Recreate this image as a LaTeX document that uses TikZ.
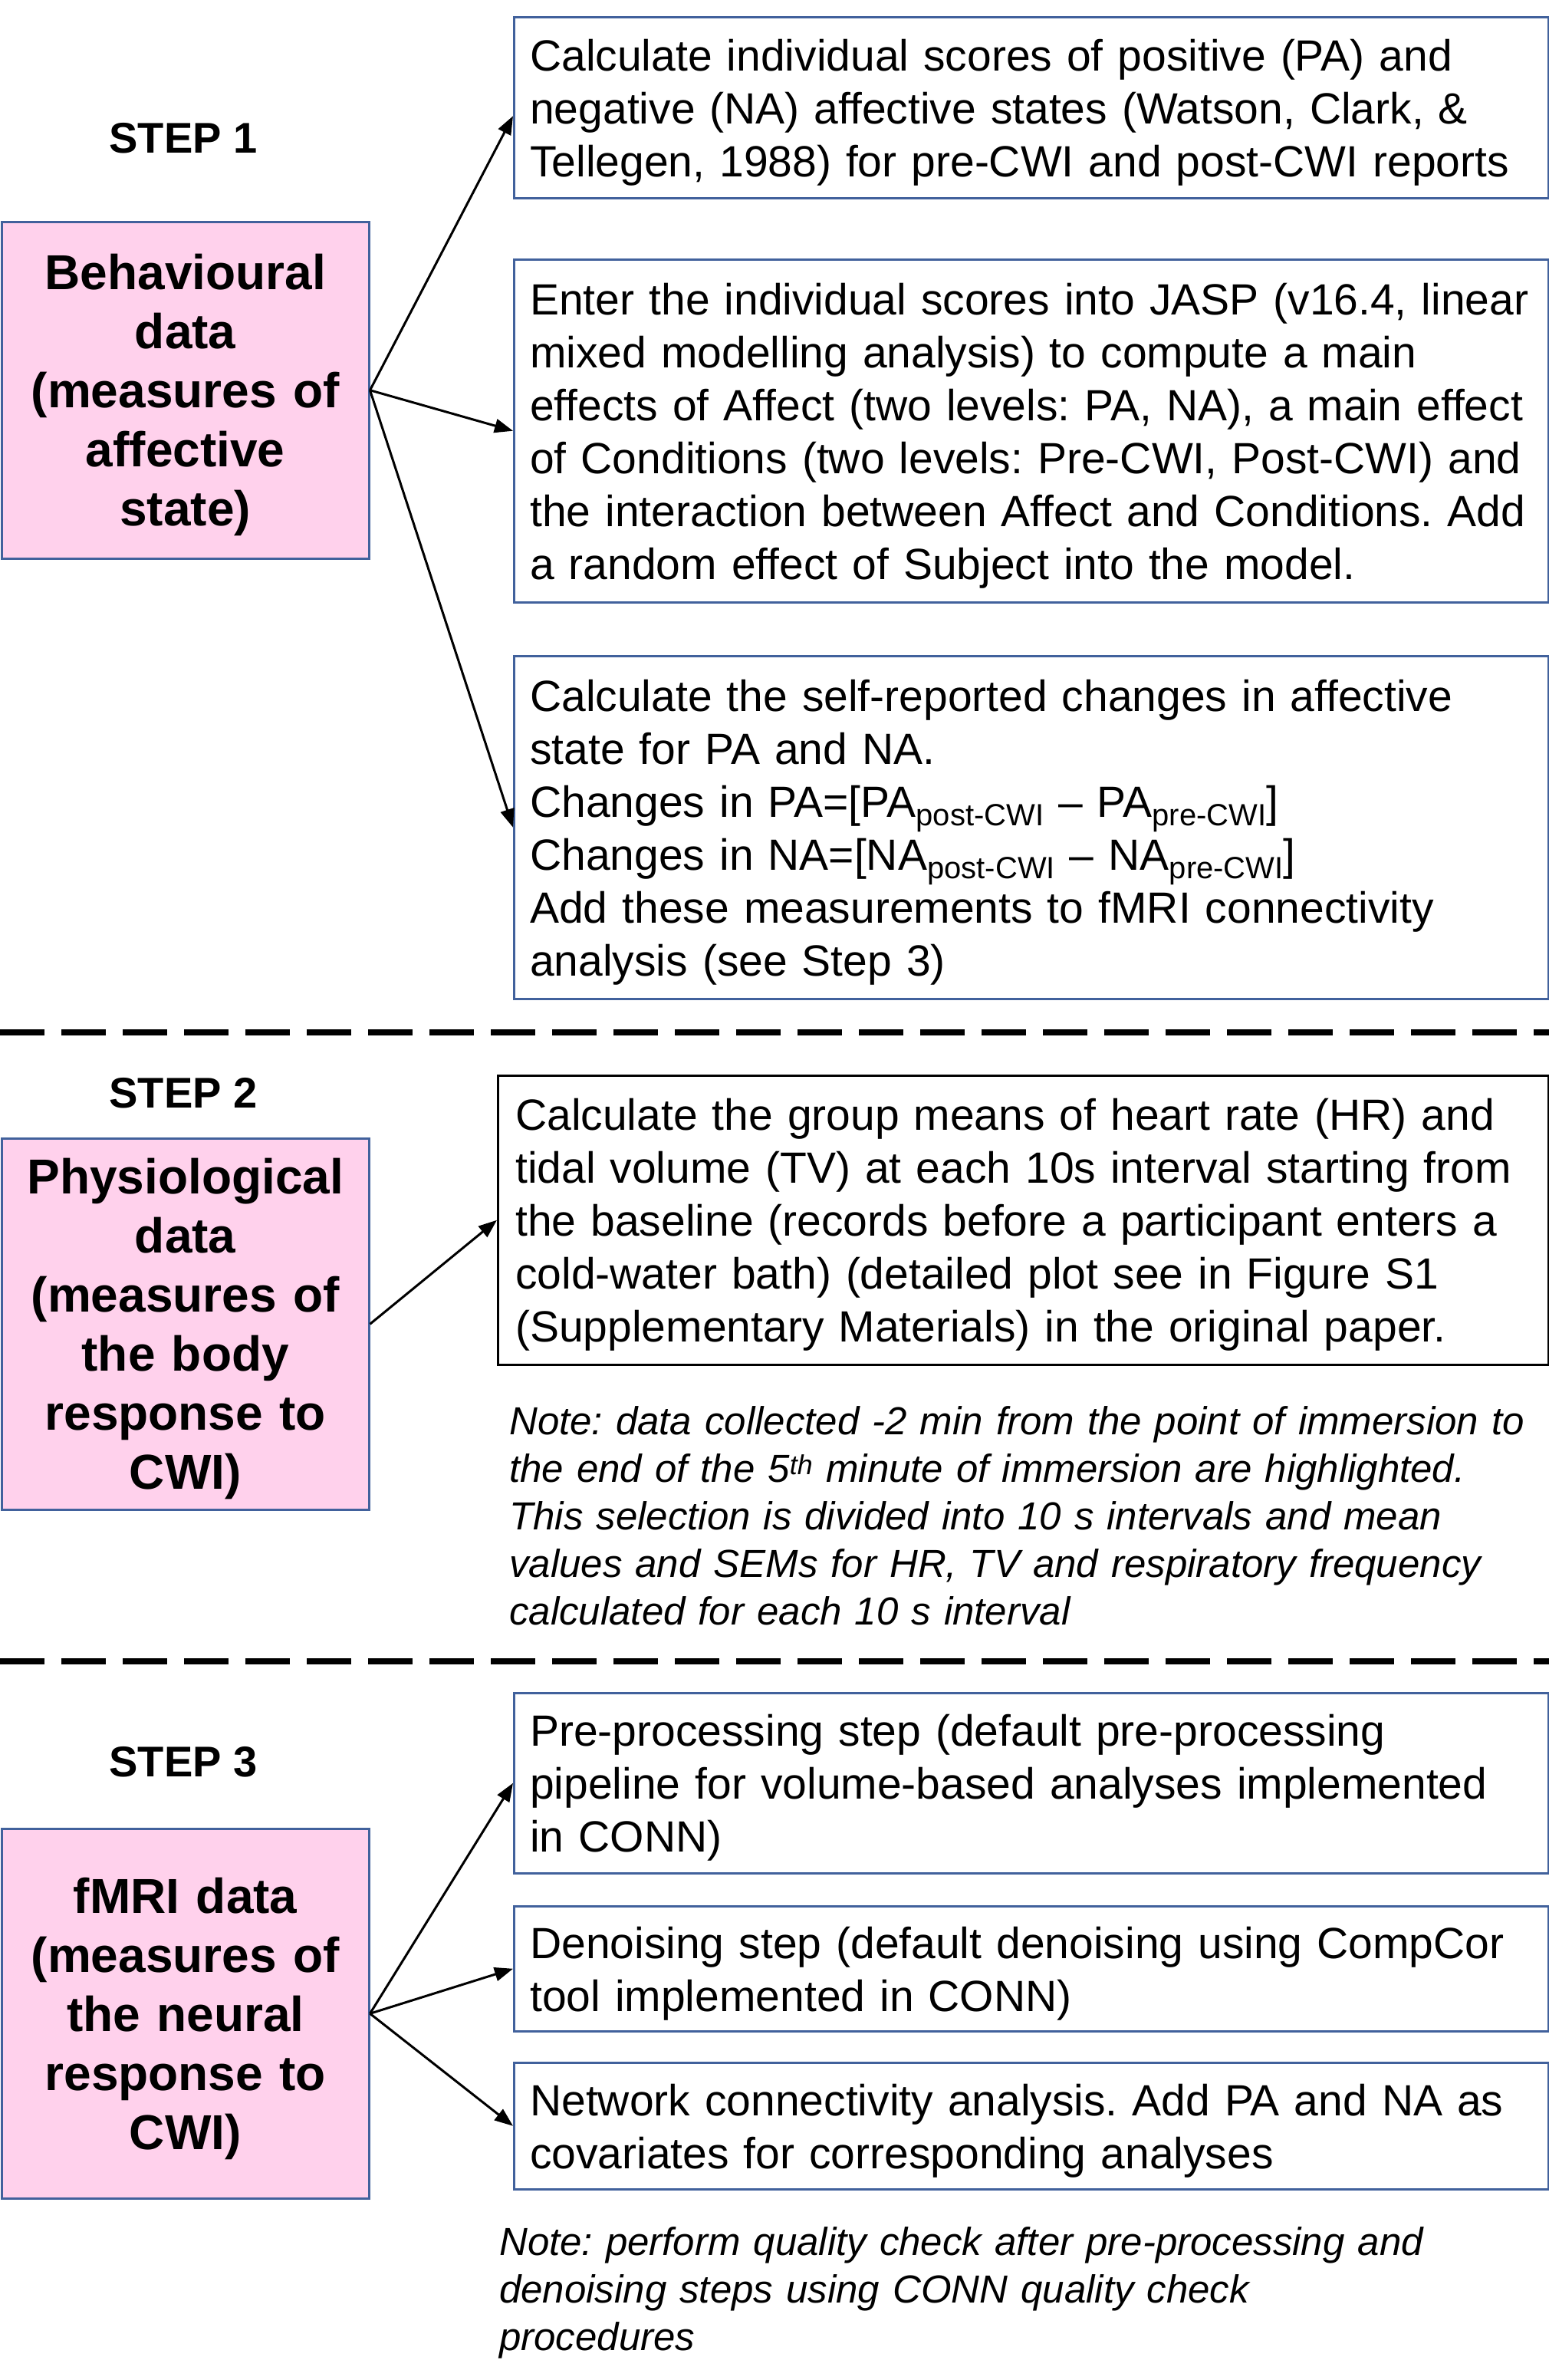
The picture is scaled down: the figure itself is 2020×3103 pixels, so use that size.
\documentclass[tikz,border=0pt]{standalone}
\usepackage{fontspec}
\setmainfont{Liberation Sans}
\usetikzlibrary{arrows.meta}
\definecolor{boxblue}{HTML}{41619C}
\definecolor{pinkfill}{HTML}{FFD1EC}
\newcommand{\lowsub}[1]{\raisebox{-11pt}{\fontsize{40pt}{40pt}\selectfont #1}}
\hyphenpenalty=10000
\exhyphenpenalty=10000
\frenchspacing
\begin{document}
\begin{tikzpicture}[x=1pt,y=-1pt,
  stepbox/.style={draw=boxblue, line width=2.5pt, fill=white, anchor=north west,
    inner xsep=21pt, inner ysep=0pt, text width=1307pt, align=left,
    execute at begin node={\rule{0pt}{54pt}},
    font=\fontsize{57pt}{69pt}\selectfont},
  databox/.style={draw=boxblue, line width=2.5pt, fill=pinkfill, anchor=north west,
    inner xsep=9.5pt, inner ysep=0pt, text width=460pt, minimum width=479pt, align=center,
    execute at begin node={\rule{0pt}{59pt}},
    font=\bfseries\fontsize{64pt}{77pt}\selectfont},
  steplabel/.style={font=\bfseries\fontsize{56pt}{67pt}\selectfont, inner sep=0pt},
  notetext/.style={anchor=base west, inner sep=0pt, text width=1360pt, align=left,
    font=\itshape\fontsize{51pt}{62pt}\selectfont},
  link/.style={line width=3pt, -{Triangle[length=24pt,width=18pt]}},
  sepline/.style={line width=8pt, dash pattern=on 58pt off 22pt},
]
\useasboundingbox (0,0) rectangle (2020,3103);
\fill[white] (0,0) rectangle (2020,3103);

% ---------------- STEP 1 ----------------
\node[steplabel] (s1) at (239,180) {STEP 1};
\node[databox, minimum height=439pt] (beh) at (1,288)
  {Behavioural\\data\\(measures of\\affective\\state)};

\node[stepbox, minimum height=236pt] (a1) at (669,21)
  {Calculate individual scores of positive (PA) and\\
   negative (NA) affective states (Watson, Clark, \&\\
   Tellegen, 1988) for pre-CWI and post-CWI reports};

\node[stepbox, minimum height=447pt] (a2) at (669,337)
  {Enter the individual scores into JASP (v16.4, linear\\
   mixed modelling analysis) to compute a main\\
   effects of Affect (two levels: PA, NA), a main effect\\
   of Conditions (two levels: Pre-CWI, Post-CWI) and\\
   the interaction between Affect and Conditions. Add\\
   a random effect of Subject into the model.};

\node[stepbox, minimum height=447pt] (a3) at (669,854)
  {Calculate the self-reported changes in affective\\
   state for PA and NA.\\
   Changes in PA=[PA\lowsub{post-CWI} – PA\lowsub{pre-CWI}]\\
   Changes in NA=[NA\lowsub{post-CWI} – NA\lowsub{pre-CWI}]\\
   Add these measurements to fMRI connectivity\\
   analysis (see Step 3)};

\draw[link] (beh.east) -- ([yshift=-11pt]a1.west);
\draw[link] (beh.east) -- (a2.west);
\draw[link] (beh.east) -- (a3.west);

\draw[sepline] (0,1346) -- (2020,1346);

% ---------------- STEP 2 ----------------
\node[steplabel] (s2) at (239,1425) {STEP 2};
\node[databox, minimum height=484pt] (phy) at (1,1483)
  {Physiological\\data\\(measures of\\the body\\response to\\CWI)};

\node[stepbox, draw=black, minimum height=377pt, inner xsep=23pt, text width=1324pt] (b1) at (648,1401)
  {Calculate the group means of heart rate (HR) and\\
   tidal volume (TV) at each 10s interval starting from\\
   the baseline (records before a participant enters a\\
   cold-water bath) (detailed plot see in Figure S1\\
   (Supplementary Materials) in the original paper.};

\draw[link] (phy.east) -- (b1.west);

\node[notetext] (n1) at (664,1870)
  {Note: data collected -2 min from the point of immersion to\\
   the end of the 5\textsuperscript{th} minute of immersion are highlighted.\\
   This selection is divided into 10 s intervals and mean\\
   values and SEMs for HR, TV and respiratory frequency\\
   calculated for each 10 s interval};

\draw[sepline] (0,2166) -- (2020,2166);

% ---------------- STEP 3 ----------------
\node[steplabel] (s3) at (239,2297) {STEP 3};
\node[databox, minimum height=482pt] (fmri) at (1,2383)
  {fMRI data\\(measures of\\the neural\\response to\\CWI)};

\node[stepbox, minimum height=235pt] (c1) at (669,2206)
  {Pre-processing step (default pre-processing\\
   pipeline for volume-based analyses implemented\\
   in CONN)};
\node[stepbox, minimum height=163pt] (c2) at (669,2484)
  {Denoising step (default denoising using CompCor\\
   tool implemented in CONN)};
\node[stepbox, minimum height=165pt] (c3) at (669,2688)
  {Network connectivity analysis. Add PA and NA as\\
   covariates for corresponding analyses};

\draw[link] (fmri.east) -- (c1.west);
\draw[link] (fmri.east) -- (c2.west);
\draw[link] (fmri.east) -- (c3.west);

\node[notetext] (n2) at (651,2940)
  {Note: perform quality check after pre-processing and\\
   denoising steps using CONN quality check\\
   procedures};
\end{tikzpicture}
\end{document}
